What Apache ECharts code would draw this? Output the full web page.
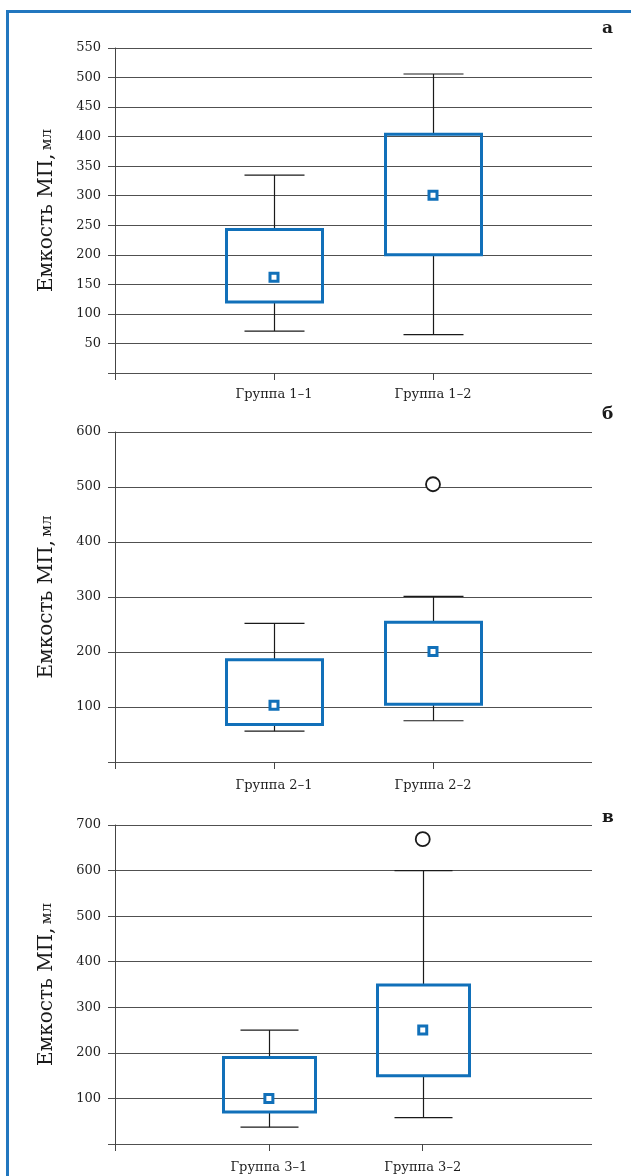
<!DOCTYPE html>
<html>
<head>
<meta charset="utf-8">
<script src="https://cdn.jsdelivr.net/npm/echarts@6/dist/echarts.min.js"></script>
<style>
html,body{margin:0;padding:0;background:#fff;}
#chart{width:631px;height:1176px;}
</style>
</head>
<body>
<div id="chart"></div>
<script>
// ---- data ----
const panelLetters = ['а', 'б', 'в'];
const yAxisName = ['Емкость МП,', 'мл'];

const categoriesA = ['Группа 1–1', 'Группа 1–2'];
const categoriesB = ['Группа 2–1', 'Группа 2–2'];
const categoriesC = ['Группа 3–1', 'Группа 3–2'];

// [min, Q1, Q3, max]
const boxA = [[71, 120, 243, 335], [65, 200, 404, 506]];
const boxB = [[56, 68, 186, 252], [75, 105, 254, 301]];
const boxC = [[37, 70, 190, 250], [58, 150, 349, 600]];

const meanA = [162, 301];
const meanB = [103, 201];
const meanC = [100, 250];

// outliers: [category index (1-based), value]
const outlierA = [];
const outlierB = [[2, 505]];
const outlierC = [[2, 669]];

const yTicksA = [0, 550, 50];
const yTicksB = [0, 600, 100];
const yTicksC = [0, 700, 100];

// ---- chart ----
const BLUE = '#1170b9';
const serif = 'DejaVu Serif';

const panels = [
  {cats: categoriesA, box: boxA, mean: meanA, out: outlierA, y: yTicksA,
   grid: {left: 115, top: 48, width: 477, height: 325}, xmax: 3, boxW: 96, capW: 60, lblMargin: 15},
  {cats: categoriesB, box: boxB, mean: meanB, out: outlierB, y: yTicksB,
   grid: {left: 115, top: 432, width: 477, height: 330}, xmax: 3, boxW: 96, capW: 60, lblMargin: 17},
  {cats: categoriesC, box: boxC, mean: meanC, out: outlierC, y: yTicksC,
   grid: {left: 115, top: 825, width: 477, height: 319}, xmax: 3.1, boxW: 92, capW: 58, lblMargin: 17}
];

const grids = [], xAxes = [], yAxes = [], series = [];

panels.forEach((p, i) => {
  grids.push(p.grid);
  xAxes.push({
    type: 'value', gridIndex: i, min: 0, max: p.xmax,
    axisLine: {show: false},
    splitLine: {show: false},
    axisTick: {show: true, length: 7, customValues: [0, 1, 2], lineStyle: {color: '#444', width: 1}},
    axisLabel: {
      show: true, customValues: [1, 2], margin: p.lblMargin,
      fontFamily: serif, fontSize: 13, color: '#1e1e1e',
      formatter: (v) => p.cats[Math.round(v) - 1] || ''
    }
  });
  yAxes.push({
    type: 'value', gridIndex: i, min: p.y[0], max: p.y[1], interval: p.y[2],
    axisLine: {show: true, lineStyle: {color: '#444', width: 1}},
    axisTick: {show: true, length: 7, lineStyle: {color: '#505050', width: 1}},
    splitLine: {show: true, lineStyle: {color: '#505050', width: 1}},
    axisLabel: {
      margin: 14, fontFamily: serif, fontSize: 13, color: '#1e1e1e',
      formatter: (v) => v === 0 ? '' : String(v)
    },
    name: '{a|' + yAxisName[0] + '} {b|' + yAxisName[1] + '}',
    nameLocation: 'middle', nameGap: 58, nameRotate: 90,
    nameTextStyle: {
      rich: {
        a: {fontFamily: serif, fontSize: 20, color: '#1a1a1a'},
        b: {fontFamily: serif, fontSize: 15, color: '#1a1a1a'}
      }
    }
  });

  const boxData = p.box.map((b, k) => [k + 1, b[0], b[1], b[2], b[3]]);
  series.push({
    type: 'custom', xAxisIndex: i, yAxisIndex: i,
    data: boxData,
    encode: {x: 0, y: [1, 2, 3, 4]},
    z: 5,
    renderItem: function (params, api) {
      const x = api.value(0);
      const pMin = api.coord([x, api.value(1)]);
      const pQ1 = api.coord([x, api.value(2)]);
      const pQ3 = api.coord([x, api.value(3)]);
      const pMax = api.coord([x, api.value(4)]);
      const cx = Math.round(pMin[0]) + 0.5;
      const hw = p.boxW / 2, hc = p.capW / 2;
      const lineStyle = {stroke: '#1a1a1a', lineWidth: 1.2};
      return {
        type: 'group',
        children: [
          {type: 'line', shape: {x1: cx, y1: pQ3[1], x2: cx, y2: pMax[1]}, style: lineStyle},
          {type: 'line', shape: {x1: cx - hc, y1: pMax[1], x2: cx + hc, y2: pMax[1]}, style: lineStyle},
          {type: 'line', shape: {x1: cx, y1: pQ1[1], x2: cx, y2: pMin[1]}, style: lineStyle},
          {type: 'line', shape: {x1: cx - hc, y1: pMin[1], x2: cx + hc, y2: pMin[1]}, style: lineStyle},
          {type: 'rect', shape: {x: cx - hw, y: pQ3[1], width: p.boxW, height: pQ1[1] - pQ3[1]},
           style: {fill: 'none', stroke: BLUE, lineWidth: 3}}
        ]
      };
    }
  });
  series.push({
    type: 'scatter', xAxisIndex: i, yAxisIndex: i, z: 6,
    data: p.mean.map((m, k) => [k + 1, m]),
    symbol: 'rect', symbolSize: 8,
    itemStyle: {color: '#fff', borderColor: BLUE, borderWidth: 3, opacity: 1}
  });
  if (p.out.length) {
    series.push({
      type: 'scatter', xAxisIndex: i, yAxisIndex: i, z: 6,
      data: p.out,
      symbol: 'circle', symbolSize: 14,
      itemStyle: {color: '#fff', borderColor: '#1a1a1a', borderWidth: 1.8, opacity: 1}
    });
  }
});

const letterPos = [[602, 20], [602, 406], [602, 809]];
const graphics = [
  {type: 'rect', silent: true, z: 100,
   shape: {x: 7.5, y: 11.5, width: 800, height: 1400},
   style: {fill: 'none', stroke: '#2277bf', lineWidth: 3}}
];
panelLetters.forEach((t, i) => {
  graphics.push({
    type: 'text', x: letterPos[i][0], y: letterPos[i][1], z: 100,
    style: {text: t, font: 'bold 17px "DejaVu Serif"', fill: '#1a1a1a'}
  });
});

const chart = echarts.init(document.getElementById('chart'), null, {renderer: 'canvas'});
chart.setOption({
  animation: false,
  backgroundColor: '#fff',
  grid: grids,
  xAxis: xAxes,
  yAxis: yAxes,
  series: series,
  graphic: graphics
});
</script>
</body>
</html>
